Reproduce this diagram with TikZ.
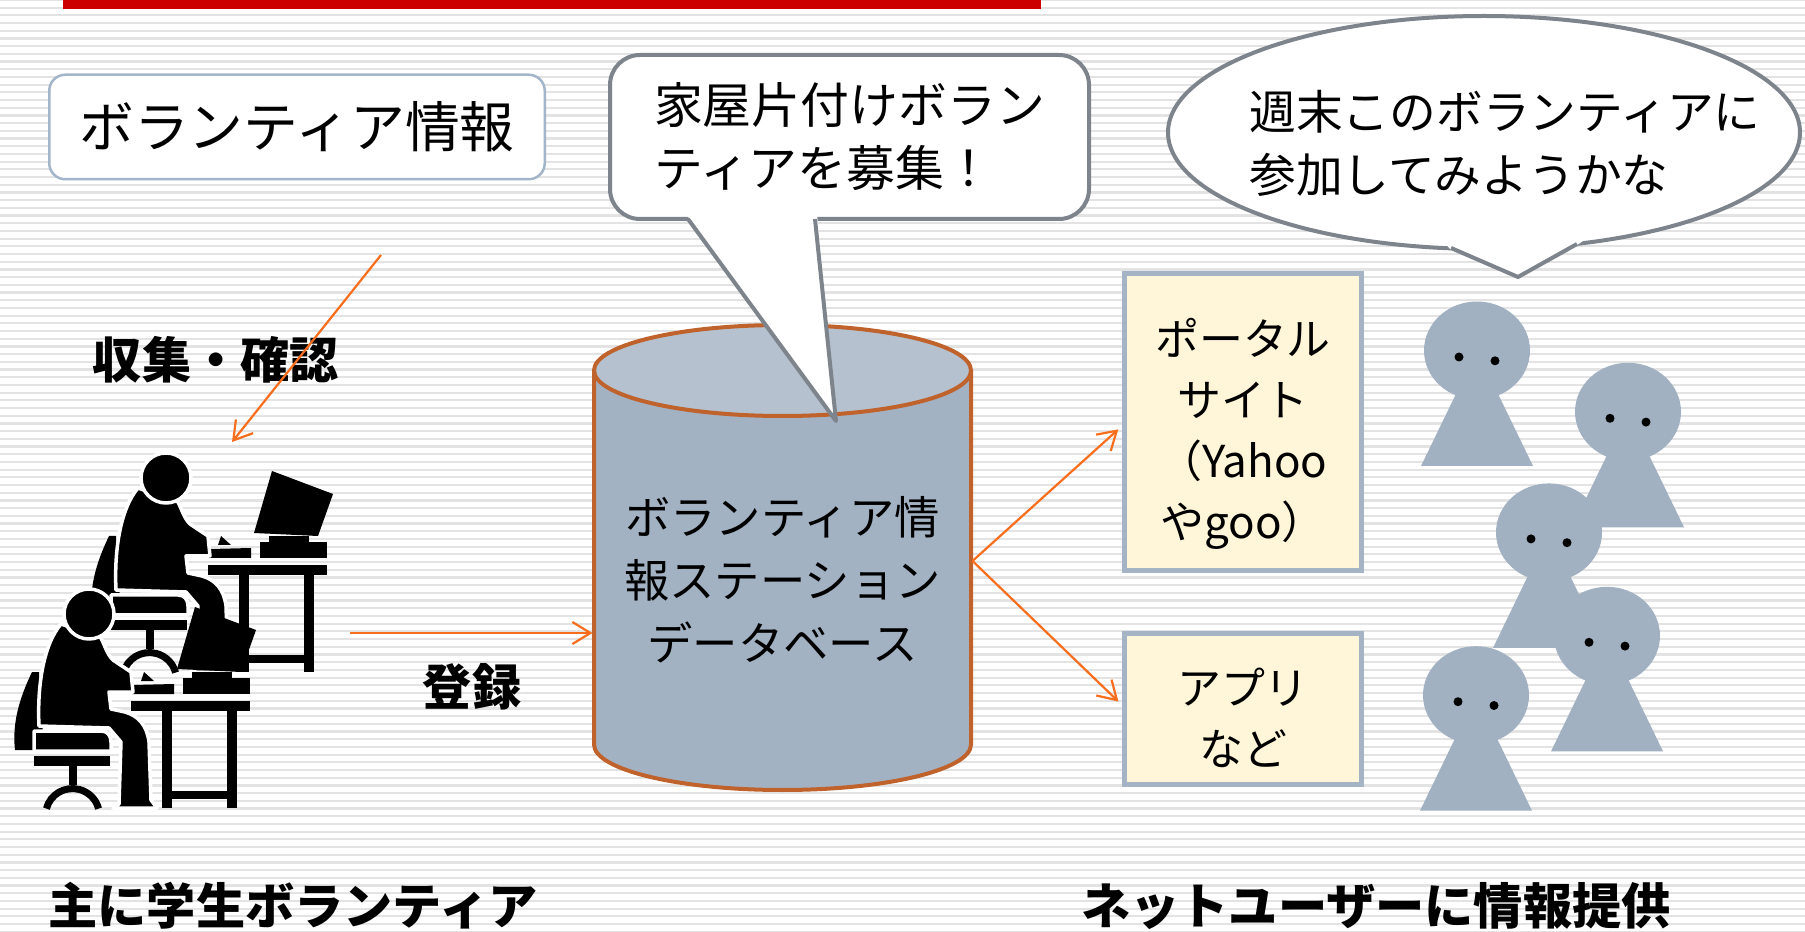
\documentclass[tikz,border=0pt]{standalone}
\usepackage{fontspec}
\setmainfont{Noto Sans CJK JP}
\usepackage{tikz}
\usetikzlibrary{arrows.meta, positioning, shapes.geometric}

\definecolor{barred}{HTML}{CC0000}
\definecolor{stripegray}{HTML}{E3E3E3}
\definecolor{boxline}{HTML}{A3B5C8}
\definecolor{bubbleline}{HTML}{7E848C}
\definecolor{dbline}{HTML}{C0622B}
\definecolor{dbbody}{HTML}{A3B2C3}
\definecolor{dbtop}{HTML}{B5C1CE}
\definecolor{sitefill}{HTML}{FFF5D8}
\definecolor{siteline}{HTML}{A5B4C5}
\definecolor{pawngray}{HTML}{A2B1C2}
\definecolor{flowline}{HTML}{F86E1C}

\tikzstyle{stripe} = [draw=stripegray, line width=0.22mm]
\tikzstyle{infobox} = [rectangle, rounded corners=1.6mm, draw=boxline, line width=0.25mm, fill=white, minimum width=49.55mm, minimum height=10.45mm, font=\fontsize{15.6pt}{20pt}\selectfont]
\tikzstyle{bubblebox} = [rectangle, rounded corners=3mm, draw=bubbleline, line width=0.4mm, fill=white, minimum width=47.9mm, minimum height=16.4mm, align=left, font=\fontsize{13.9pt}{17.9pt}\selectfont]
\tikzstyle{bubbleedge} = [draw=bubbleline, line width=0.4mm, line join=round]
\tikzstyle{thoughtbubble} = [ellipse, draw=bubbleline, line width=0.4mm, fill=white, inner sep=0pt, minimum width=63.2mm, minimum height=23.3mm]
\tikzstyle{speech} = [align=left, font=\fontsize{13.3pt}{17.9pt}\selectfont]
\tikzstyle{dbedge} = [draw=dbline, line width=0.4mm]
\tikzstyle{dbtext} = [rectangle, inner sep=0pt, outer sep=0pt, minimum width=38mm, minimum height=42mm, align=center, font=\fontsize{12.9pt}{17.9pt}\selectfont]
\tikzstyle{sitebox} = [rectangle, draw=siteline, line width=0.5mm, fill=sitefill, minimum width=23.7mm]
\tikzstyle{sitetext} = [align=center, font=\fontsize{12.5pt}{17.4pt}\selectfont]
\tikzstyle{flow} = [draw=flowline, line width=0.22mm, -{Straight Barb[length=1.8mm, width=2.2mm]}]
\tikzstyle{boldtext} = [font=\bfseries\fontsize{14pt}{17pt}\selectfont]
\tikzstyle{icon} = [fill=black]
\tikzstyle{iconcut} = [fill=black, draw=white, line width=0.35mm, line join=round]
\tikzstyle{pawn} = [fill=pawngray]

\begin{document}
\begin{tikzpicture}[x=0.1mm, y=-0.1mm]

\useasboundingbox (0,0) rectangle (1805,932);
\fill[white] (0,0) rectangle (1805,932);
\foreach \y in {0,7.7,...,932}
  \draw[stripe] (0,\y) -- (1805,\y);
\fill[barred] (63,0) rectangle (1041,9);

\node (info) [infobox] at (297,127) {ボランティア情報};

% two people working at desks
\foreach \hx/\hy in {166/478, 89/614} {
  \begin{scope}[shift={(\hx,\hy)}]
    \fill[icon] (42,87) rectangle (161,97);
    \fill[icon] (73,97) rectangle (83,194);
    \fill[icon] (138,97) rectangle (148,194);
    \fill[icon] (83,177) rectangle (138,185);
    \fill[icon] (106,-7) -- (167,16) -- (152,58) -- (88,55) -- cycle;
    \fill[icon] (103,58) rectangle (143,64);
    \fill[icon] (94,64) rectangle (161,80);
    \fill[icon] (44,71) -- (85,70) -- (85,80) -- (43,80) -- cycle;
    \fill[icon] (52,67) -- (65,67) -- (55,58) -- cycle;
    \fill[icon] (-50,58) -- (-57,58) .. controls (-70,85) and (-77,110) .. (-74,136) -- (-45,136) -- cycle;
    \fill[icon] (-55,142) rectangle (21,152);
    \fill[icon] (-20,152) rectangle (-12,171);
    \draw[line width=0.7mm] (-42.6,194.6) arc[start angle=195, end angle=345, radius=27];
    \path[iconcut] (-28,10) .. controls (-45,30) and (-52,70) .. (-50,112) -- (20,114) -- (32,128)
      -- (30,190) -- (24,194) -- (68,194) -- (62,186) -- (60,128)
      .. controls (58,112) and (50,102) .. (36,98) -- (22,95) -- (20,78) -- (44,78) -- (42,58)
      -- (24,46) .. controls (18,40) and (16,32) .. (12,24) -- cycle;
    \path[iconcut] (-55,117) -- (12,117) .. controls (18,117) and (22,121) .. (22,128) -- (22,137) -- (-55,137) -- cycle;
    \path[iconcut] (0,0) circle[radius=25];
  \end{scope}
}

\coordinate (gather) at (381,255);
\coordinate (worker) at (232,442);
\coordinate (desk) at (350,633);

\node (collect) [boldtext] at (216,360) {収集・確認};
\node (register) [boldtext] at (472,687) {登録};
\node (volunteers) [boldtext] at (293,906) {主に学生ボランティア};
\node (users) [boldtext] at (1376,906) {ネットユーザーに情報提供};

% database cylinder
\fill[dbbody] (594,370.5) -- (594,744.5) arc[start angle=180, end angle=0, x radius=188.5, y radius=45.5] -- (971,370.5) -- cycle;
\fill[dbtop] (782.5,370.5) ellipse[x radius=188.5, y radius=45.5];
\draw[dbedge] (594,370.5) -- (594,744.5) arc[start angle=180, end angle=0, x radius=188.5, y radius=45.5] -- (971,370.5);
\draw[dbedge] (782.5,370.5) ellipse[x radius=188.5, y radius=45.5];
\node (db) [dbtext] at (782.5,580) {ボランティア情\\報ステーション\\データベース};

\node (recruit) [bubblebox] at (849.5,137) {家屋片付けボラン\\ティアを募集！};
\fill[white] (686,214) -- (836,421) -- (817,214) -- cycle;
\draw[bubbleedge] (688,219) -- (836,421) -- (815,219);

\node (portal) [sitebox, minimum height=29.7mm] at (1243,422) {};
\node (portaltext) [sitetext] at (1243,434) {ポータル\\サイト\\（Yahoo\\やgoo）};
\node (apps) [sitebox, minimum height=15.1mm] at (1243,709) {};
\node (appstext) [sitetext] at (1243,718) {アプリ\\など};

\draw[flow] (gather) -- (worker);
\draw[flow] (desk) -- (desk -| db.west);
\draw[flow, shorten >=0.5mm] ([yshift=1.9mm]db.east) -- ([yshift=-0.4mm]portal.west);
\draw[flow, shorten >=0.5mm] ([yshift=1.9mm]db.east) -- ([yshift=0.4mm]apps.west);

\node (thought) [thoughtbubble] at (1484,132.5) {};
\fill[white] (1440,238) -- (1451,250) -- (1518,277) -- (1577,245) -- (1592,235) -- cycle;
\draw[bubbleedge] (1451,248) -- (1518,277) -- (1577,244);
\node (musing) [speech] at (1505,143.5) {週末このボランティアに\\参加してみようかな};

% people waiting on the right
\foreach \px/\py in {1477/350.5, 1628/411.8, 1549/532.4, 1607/635.8, 1476/695.2} {
  \fill[pawn] (\px-56,\py+115.5) -- (\px,\py) -- (\px+56,\py+115.5) -- cycle;
  \fill[pawn] (\px,\py) ellipse[x radius=53, y radius=49];
  \fill (\px-18,\py+6.5) circle[radius=4.5];
  \fill (\px+18,\py+10.3) circle[radius=4.5];
}

\end{tikzpicture}
\end{document}
